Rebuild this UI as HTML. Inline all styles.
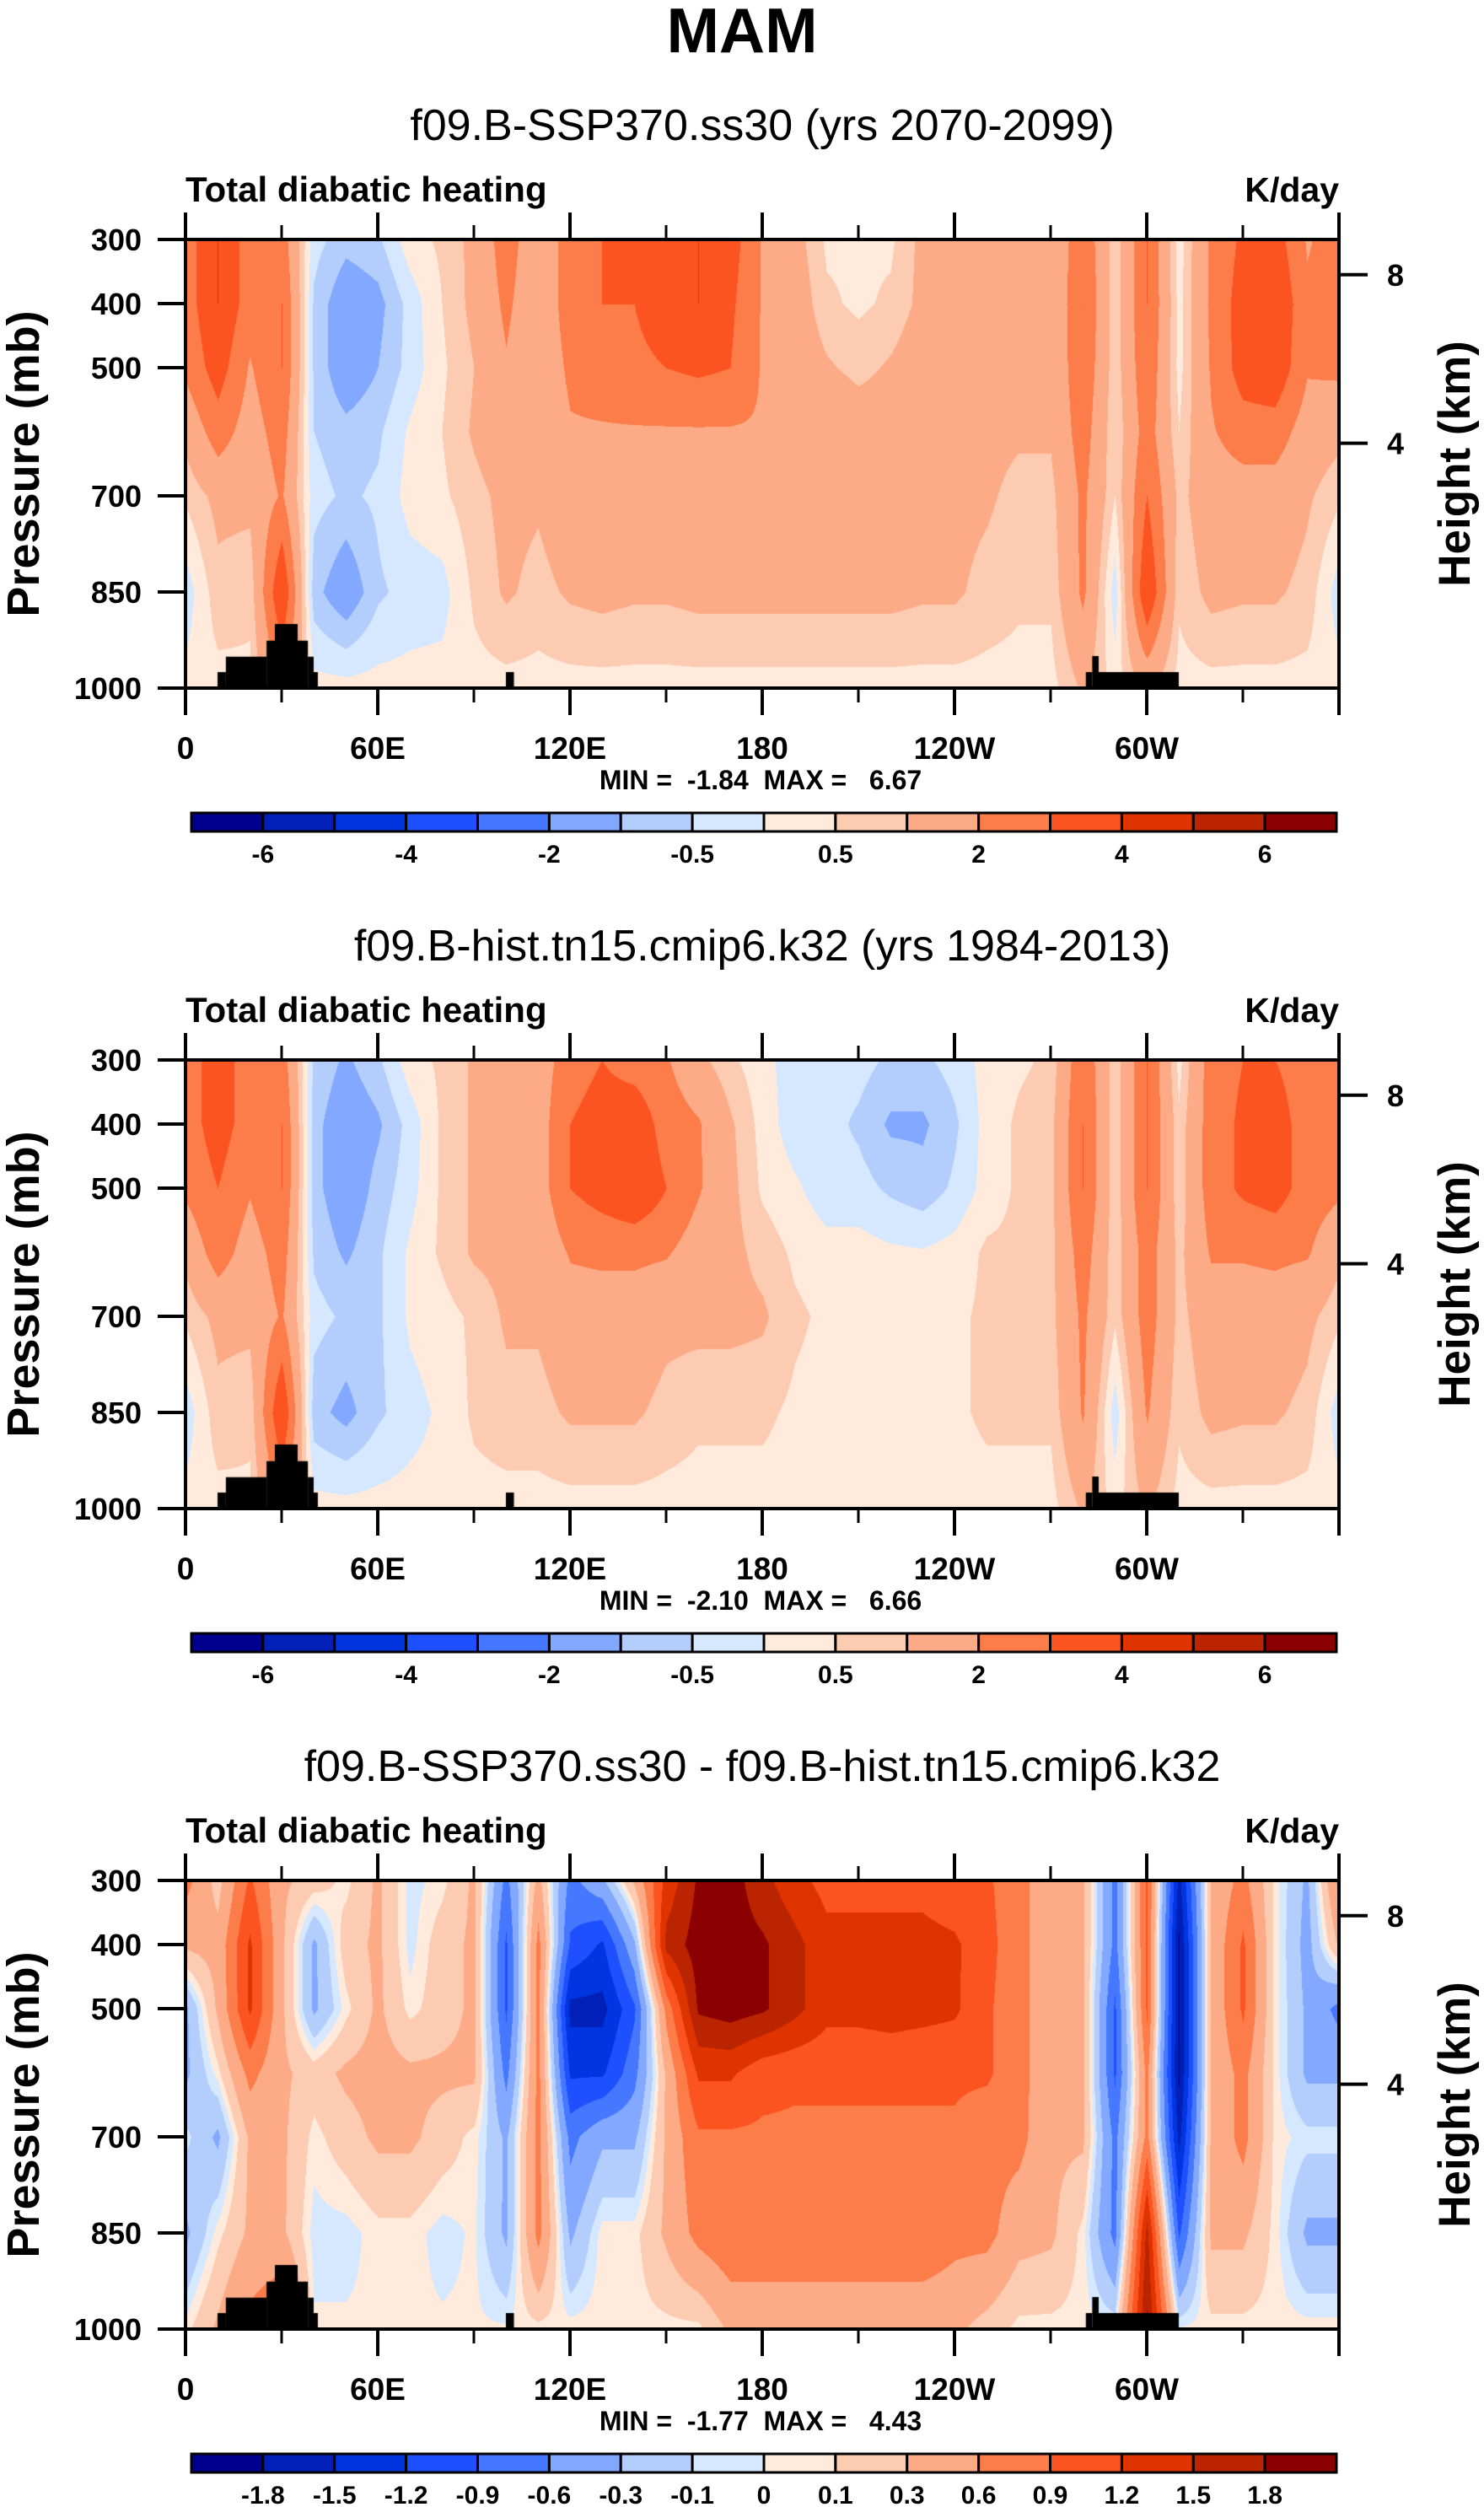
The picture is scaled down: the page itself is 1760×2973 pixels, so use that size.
<!DOCTYPE html>
<html><head><meta charset="utf-8">
<style>
html,body{margin:0;padding:0;background:#fff;}
#wrap{position:relative;width:1760px;height:2973px;overflow:hidden;}
canvas{position:absolute;left:220px;}
svg{position:absolute;left:0;top:0;}
text{font-family:"Liberation Sans",sans-serif;fill:#000;white-space:pre;}
</style></head>
<body>
<div id="wrap">
<canvas id="c0" width="1368" height="532" style="top:284px"></canvas>
<canvas id="c1" width="1368" height="532" style="top:1257px"></canvas>
<canvas id="c2" width="1368" height="532" style="top:2230px"></canvas>
<svg id="svg" width="1760" height="2973" xmlns="http://www.w3.org/2000/svg">
<text x="880" y="62" text-anchor="middle" font-size="75" font-weight="bold">MAM</text>
</svg>
</div>
<script>
// ---- data ----
const lons = [0,10,20,30,40,50,60,70,80,90,100,110,120,130,140,150,160,170,180,190,200,210,220,230,240,250,260,270,280,290,300,310,320,330,340,350,360];
const pressures = [300,400,500,600,700,850,1000];
const levelsAbs = [-6,-5,-4,-3,-2,-1,-0.5,0,0.5,1,2,3,4,5,6];
const levelsDiff = [-1.8,-1.5,-1.2,-0.9,-0.6,-0.3,-0.1,0,0.1,0.3,0.6,0.9,1.2,1.5,1.8];
const labelsAbs = ["-6","","-4","","-2","","-0.5","","0.5","","2","","4","","6"];
const labelsDiff = ["-1.8","-1.5","-1.2","-0.9","-0.6","-0.3","-0.1","0","0.1","0.3","0.6","0.9","1.2","1.5","1.8"];
const xTickLons = [0,60,120,180,240,300];
const xTickLabels = ["0","60E","120E","180","120W","60W"];
const yTickP = [300,400,500,700,850,1000];
const kmTicks = [8,4];
const kmTickP = [355,618];
const ssp370 = [
[2.5,4,2.5,2.5,-0.3,-0.8,-0.6,0.3,0.6,1.2,2.5,1.2,2.5,3,3,3.5,4,3.5,1.9,1.3,0.4,0.4,0.4,1.2,1.2,1,1,1,2.8,0.6,3,0.2,2.2,3.2,3.5,1.9,2.5],
[2.5,4,2.5,3,-0.6,-1.5,-1.2,-0.3,0.5,1.2,2.2,1.2,2.5,3,3,3.5,4,3.2,1.9,1.5,0.6,0.4,0.6,1.2,1.2,1,1,1,3,0.6,3,0.3,2.2,3.5,4,2.2,2.5],
[2.2,3.5,1.9,3,-0.6,-1.5,-1,-0.3,0.4,1,1.9,1.2,2.2,2.5,2.8,3,3.2,3,1.9,1.6,1.1,0.8,1.1,1.5,1.5,1.2,1.1,1.1,2.8,0.6,2.8,0.3,2.1,3.5,3.8,2.1,2.2],
[1.2,2.5,1.5,2.5,-0.5,-0.8,-0.6,0.1,0.5,1.1,1.5,1.1,1.9,1.9,1.9,1.9,1.9,1.9,1.9,1.9,1.8,1.5,1.5,1.5,1.5,1.2,1.1,1.1,2.5,0.5,2.5,0.5,1.9,2.5,2.5,1.5,1.2],
[0.6,1.2,1.2,2.1,-0.3,-0.6,-0.4,0.2,0.4,0.8,1.2,1.1,1.5,1.5,1.5,1.5,1.5,1.5,1.5,1.5,1.5,1.5,1.5,1.5,1.2,1.1,0.8,0.8,2.2,0.5,3,0.8,1.5,1.5,1.5,1.1,0.6],
[-0.3,0.8,0.6,4,-0.8,-1.5,-0.6,-0.3,-0.2,0.6,1.1,0.8,1.1,1.2,1.1,1.1,1.2,1.2,1.2,1.2,1.2,1.2,1.2,1.1,1.1,0.8,0.6,0.6,2.2,-0.3,4,0.6,1.2,1.1,1.1,0.8,-0.3],
[0.2,0.3,0.4,2.1,0.2,0.2,0.2,0.2,0.2,0.3,0.3,0.3,0.3,0.3,0.3,0.3,0.3,0.3,0.3,0.3,0.3,0.3,0.3,0.3,0.3,0.3,0.3,0.3,1.1,0.3,1.1,0.3,0.3,0.3,0.3,0.3,0.2]];
const hist = [
[2.5,3.5,2.5,2.5,-0.6,-1.1,-0.6,0.3,0.6,1.1,1.5,1.5,2.5,3,2.5,2.1,1.2,0.6,0.2,-0.3,-0.3,-0.3,-0.6,-0.6,-0.3,0.2,0.4,0.6,2.8,0.6,3,0.3,2.5,3,3,2.5,2.5],
[2.5,3.5,2.5,3,-0.8,-1.5,-1.1,-0.3,0.6,1.1,1.5,1.5,3,3.5,3.8,2.5,2.1,1.1,0.3,-0.3,-0.3,-0.6,-1.1,-1.1,-0.6,0.2,0.6,0.8,3,0.6,3,0.6,2.5,3.2,3.5,2.5,2.5],
[2.2,3,2.1,3,-0.8,-1.5,-0.8,-0.2,0.6,1.1,1.5,1.5,3,3.5,4,3,2.1,1.2,0.4,0.1,-0.3,-0.3,-0.6,-0.8,-0.4,0.2,0.6,0.8,3,0.6,3,0.6,2.5,3.2,3.5,2.5,2.2],
[1.2,2.5,1.5,2.5,-0.6,-1.1,-0.6,0.1,0.6,1.1,1.2,1.2,2.1,2.2,2.2,2.1,1.5,1.2,0.8,0.4,0.2,0.2,0.1,0.05,0.2,0.6,0.6,0.8,2.5,0.6,2.5,0.8,2.1,2.1,2.2,2.1,1.2],
[0.6,1.2,1.2,2.1,-0.3,-0.6,-0.6,0.1,0.3,0.6,1.1,1.1,1.5,1.5,1.5,1.2,1.2,1.2,1.1,0.6,0.4,0.3,0.3,0.3,0.4,0.6,0.6,0.8,2.2,0.6,2.5,0.8,1.5,1.5,1.5,1.2,0.6],
[-0.3,0.8,0.6,4,-0.8,-1.2,-0.6,-0.2,0.1,0.6,0.8,0.8,1.1,1.1,1.1,0.8,0.6,0.6,0.6,0.4,0.3,0.3,0.3,0.3,0.4,0.6,0.6,0.6,2.1,-0.3,2.1,0.6,1.2,1.1,1.1,0.8,-0.3],
[0.2,0.3,0.4,2.1,0.2,0.2,0.2,0.2,0.2,0.3,0.3,0.3,0.3,0.3,0.3,0.3,0.3,0.3,0.3,0.3,0.3,0.3,0.3,0.3,0.3,0.3,0.3,0.3,1.1,0.3,1.1,0.3,0.3,0.3,0.3,0.3,0.2]];
const diff = [
[0.7,0.2,0.95,0.35,0.2,0.05,0.35,-0.05,0.05,0.35,-0.7,0.4,-0.7,-0.35,0.35,1.3,1.85,1.95,1.6,1.3,1.1,1.1,1.1,1.1,1,0.95,0.7,0.4,0.35,-0.7,0.95,-1.6,0.35,0.7,0.05,-0.35,0.7],
[0.35,0.4,1.25,0.35,-0.35,0.2,0.35,-0.05,0.2,0.35,-0.95,0.7,-0.95,-1.25,-0.35,1.6,1.95,1.95,1.85,1.6,1.3,1.3,1.3,1.3,1.25,1,0.7,0.4,0.35,-0.7,0.95,-1.85,0.35,0.95,0.05,-0.4,0.35],
[-0.35,0.35,1.25,0.35,-0.35,0.05,0.35,0.05,0.2,0.35,-0.95,0.7,-1.6,-1.6,-0.95,0.7,1.85,1.95,1.85,1.6,1.3,1.3,1.35,1.3,1.25,0.95,0.7,0.4,0.35,-0.95,0.95,-1.85,0.35,0.95,0.05,-0.35,-0.7],
[-0.35,0.05,0.7,0.35,0.2,0.35,0.4,0.35,0.35,0.35,-0.7,0.7,-1.25,-1.25,-0.7,0.35,1.25,1.25,1.0,0.95,0.95,0.95,0.95,0.95,0.95,0.95,0.7,0.4,0.35,-0.95,0.7,-1.85,0.35,0.7,0.05,-0.35,-0.35],
[-0.05,-0.35,0.35,0.35,0.05,0.2,0.35,0.35,0.2,0.05,-0.35,0.7,-0.7,-0.35,-0.35,0.35,0.85,0.85,0.85,0.85,0.85,0.85,0.85,0.85,0.85,0.7,0.7,0.35,0.35,-0.7,0.7,-1.6,0.35,0.7,0.05,-0.05,-0.05],
[-0.35,0.05,0.35,0.35,-0.05,-0.05,0.05,0.05,-0.05,0.02,-0.35,0.7,-0.35,0.05,0.05,0.35,0.7,0.85,0.85,0.85,0.85,0.85,0.85,0.85,0.7,0.7,0.4,0.35,0.05,-0.7,1.6,-0.95,0.35,0.35,0.05,-0.35,-0.35],
[0.05,0.35,0.7,0.95,0.02,0.02,0.02,0.02,0.02,0.02,0.02,0.05,0.05,0.05,0.05,0.05,0.05,0.35,0.35,0.35,0.35,0.35,0.35,0.35,0.35,0.2,0.05,0.05,0.05,0.02,1.85,0.02,0.05,0.05,0.05,0.05,0.05]];
// topography blocks: [lonStart, lonEnd, topPressure]
const topo = [[10,12.6,975],[12.6,25.3,951],[25.3,27.9,926],[27.9,35,900],[35,38.2,926],[38.2,40,951],[40,41.3,975],[100,102.5,975],[281,283,975],[283,285,950],[285,310,975]];
const titles = ["f09.B-SSP370.ss30 (yrs 2070-2099)","f09.B-hist.tn15.cmip6.k32 (yrs 1984-2013)","f09.B-SSP370.ss30 - f09.B-hist.tn15.cmip6.k32"];
const minVals = ["-1.84","-2.10","-1.77"];
const maxVals = ["6.67","6.66","4.43"];
const palette = ["#000090","#0020b8","#0035e0","#1f50ff","#4578ff","#82a8ff","#b3cdfc","#d6e8ff","#ffeadb","#fdcbb2","#fcab86","#fc7c4a","#fc5420","#e03400","#bb2400","#8b0000"];

// ---- geometry ----
const PL=220, PW=1368, PH=532, PT0=284, DY=973;
const xOf = lon => PL + lon/360*PW;
const yOf = (p,top) => top + (p-300)/700*PH;
const NS="http://www.w3.org/2000/svg";
const svg=document.getElementById('svg');
function mk(tag, attrs, txt){const e=document.createElementNS(NS,tag);for(const k in attrs)e.setAttribute(k,attrs[k]);if(txt!==undefined)e.textContent=txt;svg.appendChild(e);return e;}
function hex(c){return [parseInt(c.slice(1,3),16),parseInt(c.slice(3,5),16),parseInt(c.slice(5,7),16)];}
const palRGB=palette.map(hex);
function interp(grid,lon,p){
  let i=Math.min(Math.floor(lon/10),35); let fx=(lon-lons[i])/10;
  let j=0; while(j<pressures.length-2 && p>pressures[j+1]) j++;
  let fy=(p-pressures[j])/(pressures[j+1]-pressures[j]);
  const a=grid[j][i],b=grid[j][i+1],c=grid[j+1][i],d=grid[j+1][i+1];
  return a*(1-fx)*(1-fy)+b*fx*(1-fy)+c*(1-fx)*fy+d*fx*fy;
}
function drawField(id,grid,levels){
  const cv=document.getElementById(id),ctx=cv.getContext('2d');
  const img=ctx.createImageData(PW,PH);
  for(let y=0;y<PH;y++){const p=300+y/PH*700;
    for(let x=0;x<PW;x++){const lon=x/PW*360;
      const v=Math.round(interp(grid,lon,p)*1e5)/1e5;let k=0;while(k<levels.length&&v>=levels[k]-1e-9)k++;
      const c=palRGB[k];const o=(y*PW+x)*4;img.data[o]=c[0];img.data[o+1]=c[1];img.data[o+2]=c[2];img.data[o+3]=255;}}
  ctx.putImageData(img,0,0);
  ctx.fillStyle="#000";
  topo.forEach(t=>{const x0=t[0]/360*PW,x1=t[1]/360*PW,y0=(t[2]-300)/700*PH;ctx.fillRect(x0,y0,x1-x0,PH-y0);});
}
const grids=[ssp370,hist,diff];
const ids=["c0","c1","c2"];
const panelNames=["ssp370","hist","difference"];
for(let k=0;k<3;k++){
  drawField(ids[k],grids[k],k<2?levelsAbs:levelsDiff);
  const top=PT0+k*DY, bot=top+PH, off=k*DY;
  let e;
  e=mk('text',{x:904,y:166+off,'text-anchor':'middle','font-size':52},titles[k]);
  
  
  e=mk('text',{x:220,y:239+off,'font-size':42,'font-weight':'bold'},"Total diabatic heating");
  
  
  e=mk('text',{x:1588,y:239+off,'text-anchor':'end','font-size':41,'font-weight':'bold'},"K/day");
  
  
  e=mk('rect',{x:PL,y:top,width:PW,height:PH,fill:'none',stroke:'#000','stroke-width':4});
  
  
  for(let lon=0;lon<=360;lon+=30){const major=lon%60===0;const L=major?32:17;const x=xOf(lon);
    e=mk('line',{x1:x,x2:x,y1:bot,y2:bot+L,stroke:'#000','stroke-width':major?4:3});
    
    
    e=mk('line',{x1:x,x2:x,y1:top,y2:top-L,stroke:'#000','stroke-width':major?4:3});
    
    }
  xTickLons.forEach((lon,i)=>{e=mk('text',{x:xOf(lon),y:900+off,'text-anchor':'middle','font-size':37,'font-weight':'bold'},xTickLabels[i]);
    
    });
  yTickP.forEach(p=>{const y=yOf(p,top);
    e=mk('line',{x1:PL-33,x2:PL,y1:y,y2:y,stroke:'#000','stroke-width':4});
    
    
    e=mk('text',{x:168,y:y+13,'text-anchor':'end','font-size':36,'font-weight':'bold'},String(p));
    
    });
  kmTicks.forEach((km,i)=>{const y=yOf(kmTickP[i],top);
    e=mk('line',{x1:PL+PW,x2:PL+PW+34,y1:y,y2:y,stroke:'#000','stroke-width':4});
    
    
    e=mk('text',{x:1655,y:y+13,'text-anchor':'middle','font-size':36,'font-weight':'bold'},String(km));
    
    });
  const cy=top+PH/2;
  e=mk('text',{x:0,y:0,'text-anchor':'middle','font-size':54,'font-weight':'bold',transform:`translate(46,${cy}) rotate(-90)`},"Pressure (mb)");
  
  
  e=mk('text',{x:0,y:0,'text-anchor':'middle','font-size':53,'font-weight':'bold',transform:`translate(1743,${cy}) rotate(-90)`},"Height (km)");
  
  
  e=mk('text',{x:902,y:936+off,'text-anchor':'middle','font-size':32,'font-weight':'bold'},`MIN =  ${minVals[k]}  MAX =   ${maxVals[k]}`);
  
  
  // colorbar
  const cbL=227,cbW=1358/16,cbT=964+off,cbH=22;
  const labs=k<2?labelsAbs:labelsDiff;
  for(let i=0;i<16;i++){
    e=mk('rect',{x:cbL+i*cbW,y:cbT,width:cbW,height:cbH,fill:palette[i],stroke:'#000','stroke-width':3});
    
    }
  labs.forEach((s,i)=>{if(!s)return;
    e=mk('text',{x:cbL+(i+1)*cbW,y:1023+off,'text-anchor':'middle','font-size':30,'font-weight':'bold'},s);
    
    });
}
</script>
</body></html>
